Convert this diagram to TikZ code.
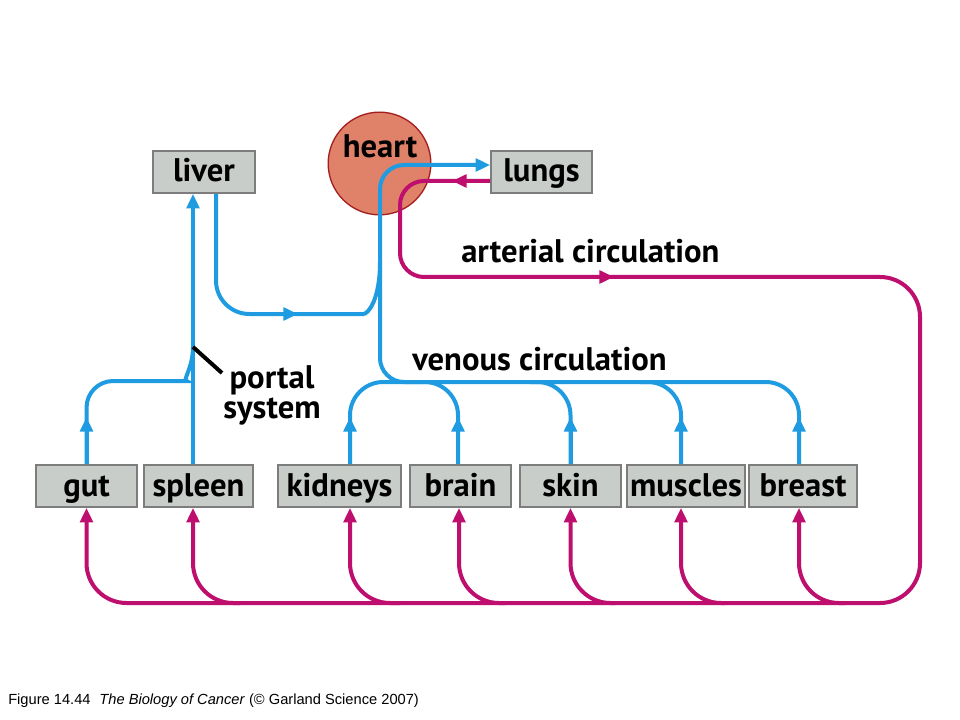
\documentclass[tikz,border=0pt]{standalone}
\usepackage{fontspec}
\setmainfont{PT Sans}
\newfontfamily\capfont{Liberation Sans}
\usetikzlibrary{arrows.meta,calc}
\definecolor{venous}{RGB}{30,155,225}
\definecolor{arterial}{RGB}{190,15,110}
\definecolor{boxfill}{RGB}{201,205,202}
\definecolor{boxline}{RGB}{125,125,125}
\definecolor{heartfill}{RGB}{224,130,106}
\definecolor{heartline}{RGB}{165,30,30}
\tikzset{
  organ/.style={draw=boxline, fill=boxfill, line width=1.2pt, minimum height=31.5pt,
    inner sep=0pt, text height=17pt, text depth=2pt, font=\fontsize{24.5}{26}\selectfont\bfseries},
  lbl/.style={inner sep=0pt, font=\fontsize{24.5}{26}\selectfont\bfseries},
  vein/.style={draw=venous, line width=3pt},
  artery/.style={draw=arterial, line width=3pt},
}
\begin{document}
\begin{tikzpicture}[x=0.75pt,y=-0.75pt,>={Triangle[length=11pt,width=9.5pt]}]
\fill[white] (0,0) rectangle (960,720);
\useasboundingbox (0,0) rectangle (960,720);

% heart
\node[circle, draw=heartline, fill=heartfill, line width=1pt, minimum size=77pt, inner sep=0pt] (heart) at (379.5,163.5) {};
\node[lbl, anchor=base] (heartlbl) at (380,158) {heart};

% organs
\node[organ, minimum width=76.5pt]  (liver)   at (204,172)   {liver};
\node[organ, minimum width=75.75pt] (lungs)   at (541.5,172) {lungs};
\node[organ, minimum width=75.75pt] (gut)     at (86.5,486)  {gut};
\node[organ, minimum width=81.75pt] (spleen)  at (198.5,486) {spleen};
\node[organ, minimum width=92.25pt] (kidneys) at (339.5,486) {kidneys};
\node[organ, minimum width=75.75pt] (brain)   at (460.5,486) {brain};
\node[organ, minimum width=75.75pt] (skin)    at (570.5,486) {skin};
\node[organ, minimum width=88.5pt]  (muscles) at (686,486)   {muscles};
\node[organ, minimum width=81pt]    (breast)  at (803,486)   {breast};

% labels
\node[lbl, anchor=base west] (artlbl) at (461,263) {arterial circulation};
\node[lbl, anchor=base west] (venlbl) at (412,370) {venous circulation};
\node[lbl, anchor=base] (portal1) at (272,388) {portal};
\node[lbl, anchor=base] (portal2) at (272,418) {system};

% ---- venous (blue) ----
% trunk to lungs
\draw[vein, rounded corners=18, ->] (420,382) -- (380,382) -- (380,165) -- ($(lungs.west)+(0,-7)$);
% liver to trunk
\draw[vein, rounded corners=25] ($(liver.south)+(12,0)$) -- (216,314) -- (330,314)
   .. controls (368,314) and (380,300) .. (380,262);
\draw[vein, ->] (260,314) -- (298,314);
% portal system
\coordinate (pj) at (193,347);
\draw[vein, ->] ($(spleen.north)+(-5.5,0)$) -- ($(liver.south)+(-11,0)$);
\draw[vein, rounded corners=20] (gut.north) -- (86.5,381) -- (160,381)
   .. controls (182,381) and (193,368) .. (pj);
\draw[vein, ->] (gut.north) -- (86.5,417);
\coordinate (pe) at (222,373);
\draw[black, line width=3pt] (pj) -- (pe);
% venous branches
\draw[vein, rounded corners=25] ($(kidneys.north)+(10.5,0)$) -- (350,382) -- (799,382) -- ($(breast.north)+(-4,0)$);
\draw[vein, rounded corners=25] (420,382) -- (458,382) -- ($(brain.north)+(-2.5,0)$);
\draw[vein, rounded corners=25] (530,382) -- (570.5,382) -- (skin.north);
\draw[vein, rounded corners=25] (640,382) -- (681,382) -- ($(muscles.north)+(-5,0)$);
\draw[vein, ->] ($(kidneys.north)+(10.5,0)$) -- (350,417);
\draw[vein, ->] ($(brain.north)+(-2.5,0)$) -- (458,417);
\draw[vein, ->] (skin.north) -- (570.5,417);
\draw[vein, ->] ($(muscles.north)+(-5,0)$) -- (681,417);
\draw[vein, ->] ($(breast.north)+(-4,0)$) -- (799,417);

% ---- arterial (magenta) ----
\draw[artery, rounded corners=18, ->] ($(lungs.west)+(0,9)$) -- (400,181) -- (400,277)
   [rounded corners=30] -- (920,277) -- (920,603) -- (86.5,603) -- (gut.south);
\draw[artery, ->] (485,181) -- (452,181);
\draw[artery, ->] (580,277) -- (614,277);
\draw[artery, rounded corners=30, ->] (240,603) -- (193,603) -- ($(spleen.south)+(-5.5,0)$);
\draw[artery, rounded corners=30, ->] (400,603) -- (350,603) -- ($(kidneys.south)+(10.5,0)$);
\draw[artery, rounded corners=30, ->] (505,603) -- (459,603) -- ($(brain.south)+(-1.5,0)$);
\draw[artery, rounded corners=30, ->] (615,603) -- (570.5,603) -- (skin.south);
\draw[artery, rounded corners=30, ->] (725,603) -- (681,603) -- ($(muscles.south)+(-5,0)$);
\draw[artery, rounded corners=30, ->] (845,603) -- (799,603) -- ($(breast.south)+(-4,0)$);

% caption
\node[anchor=base west, inner sep=0pt, font=\capfont\fontsize{11}{13}\selectfont] (caption) at (8,704)
  {Figure 14.44\hspace{0.6em}\textit{The Biology of Cancer} (© Garland Science 2007)};
\end{tikzpicture}
\end{document}
